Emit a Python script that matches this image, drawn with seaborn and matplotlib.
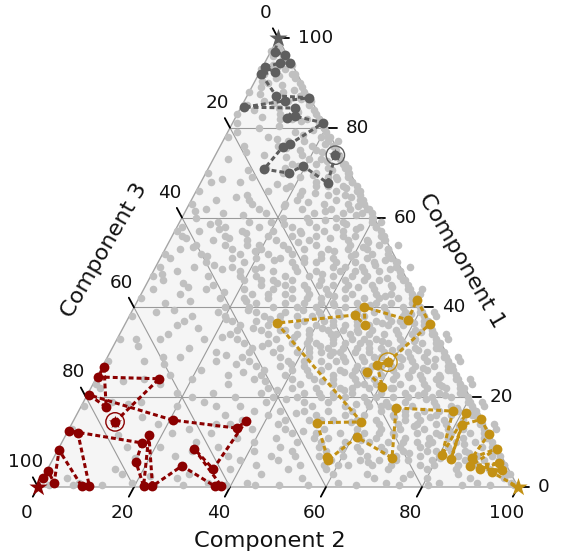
import matplotlib
matplotlib.use("Agg")
import matplotlib.pyplot as plt
from matplotlib.patches import Polygon
import numpy as np
import seaborn as sns

sns.set_theme(style="white")
plt.rcParams["font.family"] = ["DejaVu Sans"]

# ---------------------------------------------------------------------------
# Data: (Component 1, Component 2) in percent; Component 3 is the remainder.
# ---------------------------------------------------------------------------
cloud = [
    (98, 1), (97, 2), (96, 3), (99, 0.5), (96, 1), (95, 4), (97, 0),
    (94, 2), (93, 5), (92, 1), (91, 8), (90, 3), (92, 7), (93, 0), (91, 4), (94, 6), (90, 9.5),
    (89, 2), (88, 7), (87, 11), (86, 4), (85, 14), (88, 0), (86, 9), (87, 12.5), (89, 10.5), (85, 1), (86, 13.5),
    (84, 3), (83, 9), (82, 15), (81, 18), (80, 6), (83, 16.5), (82, 12), (84, 15.5), (81, 1), (80, 19.5),
    (82, 17.5), (83, 0),
    (79, 14), (78, 20), (77, 22), (76, 5), (75, 17), (79, 20.5), (78, 9), (77, 24), (76, 19), (75, 24.5),
    (76, 12), (79, 2), (77, 17), (78, 21.5),
    (74, 25), (73, 20), (72, 28), (71, 12), (70, 23), (74, 18), (73, 26.5), (72, 17), (71, 29), (70, 29.5),
    (72, 22), (73, 3), (71, 25), (74, 10), (70, 16), (72, 27.5), (71, 20),
    (69, 30), (68, 24), (67, 33), (66, 15), (65, 28), (69, 20), (68, 31.5), (67, 27), (66, 34), (65, 34.5),
    (68, 8), (67, 19), (66, 22), (65, 11), (69, 26), (68, 2), (67, 30), (66, 29), (65, 22), (69, 10),
    (64, 35), (63, 28), (62, 38), (61, 17), (60, 32), (64, 22), (63, 36.5), (62, 30), (61, 39), (60, 39.5),
    (64, 5), (63, 13), (62, 24), (61, 8), (60, 21), (64, 30), (63, 0.5), (62, 15), (61, 33), (60, 26),
    (64, 12), (62, 34), (61, 27), (60, 3), (63, 20), (62, 4),
    (59, 40), (58, 33), (57, 43), (56, 20), (55, 37), (59, 27), (58, 41.5), (57, 35), (56, 44), (55, 44.5),
    (59, 8), (58, 17), (57, 26), (56, 11), (55, 29), (59, 34), (58, 1), (57, 14), (56, 38), (55, 22),
    (59, 19), (58, 24), (57, 5), (56, 30), (55, 9), (59, 42), (58, 38), (57, 31), (56, 2), (55, 16),
    (58, 10), (56, 25),
    (54, 44), (53, 38), (52, 47), (51, 25), (50, 41), (54, 31), (53, 46.5), (52, 40), (51, 48), (50, 49.5),
    (54, 12), (53, 20), (52, 33), (51, 15), (50, 28), (54, 38), (53, 3), (52, 22), (51, 36), (50, 18),
    (54, 24), (53, 29), (52, 8), (51, 43), (50, 33), (54, 6), (53, 14), (52, 27), (51, 2), (50, 10),
    (54, 48), (53, 42), (52, 16), (51, 30), (50, 45), (53, 34), (51, 20), (50, 37), (54, 19),
    (49, 50), (48, 44), (47, 52), (46, 30), (45, 47), (49, 37), (48, 51.5), (47, 45), (46, 53), (45, 54.5),
    (49, 16), (48, 25), (47, 38), (46, 20), (45, 33), (49, 43), (48, 5), (47, 28), (46, 41), (45, 24),
    (49, 29), (48, 34), (47, 12), (46, 48), (45, 39), (49, 8), (48, 18), (47, 33), (46, 3), (45, 14),
    (49, 53), (48, 47), (47, 22), (46, 36), (45, 51), (48, 39), (46, 26), (45, 42), (49, 22), (47, 42),
    (46, 45), (48, 30), (45, 29), (49, 1),
    (44, 55), (43, 49), (42, 57), (41, 35), (40, 52), (44, 42), (43, 56.5), (42, 50), (41, 58), (40, 59.5),
    (44, 21), (43, 30), (42, 43), (41, 25), (40, 38), (44, 48), (43, 8), (42, 32), (41, 46), (40, 29),
    (44, 34), (43, 39), (42, 17), (41, 53), (40, 44), (44, 13), (43, 23), (42, 38), (41, 6), (40, 19),
    (44, 58), (43, 52), (42, 27), (41, 41), (40, 56), (43, 44), (41, 31), (40, 47), (44, 27), (42, 47),
    (41, 50), (43, 35), (40, 34), (44, 2), (42, 54), (40, 24), (43, 58), (41, 57.5), (44, 38), (42, 22),
    (39, 60), (38, 54), (37, 62), (36, 40), (35, 57), (39, 47), (38, 61.5), (37, 55), (36, 63), (35, 64.5),
    (39, 26), (38, 35), (37, 48), (36, 30), (35, 43), (39, 53), (38, 13), (37, 37), (36, 51), (35, 34),
    (39, 39), (38, 44), (37, 22), (36, 58), (35, 49), (39, 18), (38, 28), (37, 43), (36, 11), (35, 24),
    (39, 63), (38, 57), (37, 32), (36, 46), (35, 61), (38, 49), (36, 36), (35, 52), (39, 32), (37, 52),
    (36, 55), (38, 40), (35, 39), (39, 5), (37, 59), (35, 29), (38, 64), (36, 62.5), (39, 43), (37, 27),
    (38, 20), (36, 24), (35, 46), (39, 57), (37, 41),
    (34, 65), (33, 59), (32, 67), (31, 45), (30, 62), (34, 52), (33, 66.5), (32, 60), (31, 68), (30, 69.5),
    (34, 31), (33, 40), (32, 53), (31, 35), (30, 48), (34, 58), (33, 18), (32, 42), (31, 56), (30, 39),
    (34, 44), (33, 49), (32, 27), (31, 63), (30, 54), (34, 23), (33, 33), (32, 48), (31, 16), (30, 29),
    (34, 68), (33, 62), (32, 37), (31, 51), (30, 66), (33, 54), (31, 41), (30, 57), (34, 37), (32, 57),
    (31, 60), (33, 45), (30, 44), (34, 10), (32, 64), (30, 34), (33, 69), (31, 67.5), (34, 48), (32, 32),
    (33, 25), (31, 29), (30, 51), (34, 61), (32, 51), (30, 22), (33, 4), (31, 48), (34, 55),
    (29, 70), (28, 64), (27, 72), (26, 50), (25, 67), (29, 57), (28, 71.5), (27, 65), (26, 73), (25, 74.5),
    (29, 36), (28, 45), (27, 58), (26, 40), (25, 53), (29, 63), (28, 23), (27, 47), (26, 61), (25, 44),
    (29, 49), (28, 54), (27, 32), (26, 68), (25, 59), (29, 28), (28, 38), (27, 53), (26, 21), (25, 34),
    (29, 73), (28, 67), (27, 42), (26, 56), (25, 71), (28, 59), (26, 46), (25, 62), (29, 42), (27, 62),
    (26, 65), (28, 50), (25, 49), (29, 15), (27, 69), (25, 39), (28, 74), (26, 72.5), (29, 53), (27, 37),
    (28, 30), (26, 34), (25, 56), (29, 66), (27, 56), (25, 27), (28, 8), (26, 53), (29, 61),
    (24, 75), (23, 69), (22, 77), (21, 55), (20, 72), (24, 62), (23, 76.5), (22, 70), (21, 78), (20, 79.5),
    (24, 41), (23, 50), (22, 63), (21, 45), (20, 58), (24, 68), (23, 28), (22, 52), (21, 66), (20, 49),
    (24, 54), (23, 59), (22, 37), (21, 73), (20, 64), (24, 33), (23, 43), (22, 58), (21, 26), (20, 39),
    (24, 78), (23, 72), (22, 47), (21, 61), (20, 76), (23, 64), (21, 51), (20, 67), (24, 20), (22, 67),
    (21, 70), (23, 55), (20, 54), (24, 10), (22, 74), (20, 44), (23, 79), (21, 77.5), (24, 58), (22, 42),
    (23, 14), (21, 36), (20, 31), (24, 71), (22, 2), (20, 22),
    (19, 80), (18, 74), (17, 82), (16, 60), (15, 77), (19, 67), (18, 81.5), (17, 75), (16, 83), (15, 84.5),
    (19, 46), (18, 55), (17, 68), (16, 50), (15, 63), (19, 73), (18, 33), (17, 57), (16, 71), (15, 54),
    (19, 59), (18, 64), (17, 42), (16, 78), (15, 69), (19, 38), (18, 48), (17, 63), (16, 31), (15, 44),
    (19, 83), (18, 77), (17, 52), (16, 66), (15, 81), (18, 69), (16, 56), (15, 72), (19, 25), (17, 72),
    (16, 75), (18, 60), (15, 59), (19, 12), (17, 79), (15, 49), (18, 84), (16, 82.5), (19, 63), (17, 47),
    (18, 20), (16, 40), (15, 35), (19, 6),
    (14, 85), (13, 79), (12, 87), (11, 65), (10, 82), (14, 72), (13, 86.5), (12, 80), (11, 88), (10, 89.5),
    (14, 51), (13, 60), (12, 73), (11, 55), (10, 68), (14, 78), (13, 38), (12, 62), (11, 76), (10, 59),
    (14, 64), (13, 69), (12, 47), (11, 83), (10, 74), (14, 43), (13, 53), (12, 68), (11, 36), (10, 49),
    (14, 88), (13, 82), (12, 57), (11, 71), (10, 86), (13, 74), (11, 61), (10, 77), (14, 30), (12, 77),
    (11, 80), (13, 65), (10, 64), (14, 18), (12, 84), (10, 54), (13, 89), (11, 87.5), (14, 68), (12, 52),
    (13, 25), (11, 44), (10, 40), (12, 30), (14, 9),
    (9, 88), (8, 82), (7, 91), (6, 68), (5, 85), (9, 75), (8, 90.5), (7, 84), (6, 93), (5, 94.5),
    (9, 54), (8, 63), (7, 76), (6, 58), (5, 71), (9, 81), (8, 41), (7, 65), (6, 79), (5, 62),
    (9, 67), (8, 72), (7, 50), (6, 86), (5, 77), (9, 46), (8, 56), (7, 71), (6, 39), (5, 52),
    (9, 90), (8, 85), (7, 60), (6, 74), (5, 89), (8, 77), (6, 64), (5, 80), (9, 33), (7, 80),
    (6, 83), (8, 68), (5, 67), (9, 21), (7, 88), (5, 57), (8, 91.5), (6, 90), (9, 71), (7, 55),
    (8, 28), (6, 47), (5, 43), (7, 36), (9, 14), (8, 49),
    (4, 92), (3, 86), (2, 96), (1, 72), (0.5, 88), (4, 79), (3, 96.5), (2, 89), (1, 98), (0.5, 99),
    (4, 58), (3, 67), (2, 80), (1, 62), (0.5, 75), (4, 85), (3, 45), (2, 69), (1, 83), (0.5, 66),
    (4, 71), (3, 76), (2, 54), (1, 91), (0.5, 81), (4, 50), (3, 60), (2, 75), (1, 43), (0.5, 56),
    (0.5, 94), (0.5, 50), (0.5, 45), (0.5, 39), (1, 35), (0.5, 30), (2, 28), (0.5, 24), (1, 19),
    (0.5, 13), (3, 16), (0.5, 7), (2, 5), (0.5, 2), (4, 38), (3, 30), (1, 8),
    # along the Component 3 side
    (85, 0.5), (78, 0.5), (70, 0.5), (66, 0.5), (57, 0.5), (52, 0.5), (47, 0.5), (42, 0.5),
    (38, 0.5), (33, 0.5), (28, 0.5), (23, 0.5), (18, 0.5), (13, 0.5), (8, 0.5),
    # along the Component 1 / Component 2 side
    (88, 11.5), (82, 17.5), (76, 23.5), (71, 28.5), (66, 33.5), (62, 37.5), (58, 41.5), (53, 46.5),
    (48, 51.5), (44, 55.5), (39, 60.5), (34, 65.5), (29, 70.5), (24, 75.5), (19, 80.5), (14, 85.5),
    (9, 90.5), (5, 94.5), (68, 31.5), (73, 26.5), (80, 19.5), (56, 43.5), (46, 53.5), (36, 63.5),
    (26, 73.5), (16, 83.5),
]

cloud_more = [
    (91.5, 4.5), (89.5, 6), (87.5, 2.5), (86.5, 11.5), (84.5, 8), (83.5, 12.5), (82.5, 5.5),
    (81.5, 14), (80.5, 10), (88.5, 9), (85.5, 6.5), (93.5, 3), (90.5, 1.5), (84, 12), (82, 9.5),
    (78.5, 16), (77.5, 11), (76.5, 21.5), (75.5, 14), (74.5, 22), (73.5, 15), (72.5, 24), (71.5, 18.5),
    (70.5, 26), (69.5, 22.5), (68.5, 28), (67.5, 16), (66.5, 31), (65.5, 25), (64.5, 33), (63.5, 24.5),
    (62.5, 35.5), (61.5, 29), (60.5, 36), (79.5, 17.5), (77, 13.5), (75, 20.5), (73, 22.5), (71, 16),
    (69, 27.5), (67, 24.5), (65, 31.5), (63, 33), (61, 37), (62.5, 20), (66.5, 18.5), (70.5, 8.5),
    (74.5, 6),
    (59.5, 30), (58.5, 22), (57.5, 37.5), (56.5, 15), (55.5, 33), (54.5, 27), (53.5, 41), (52.5, 19),
    (51.5, 39.5), (50.5, 24), (49.5, 45.5), (48.5, 21), (47.5, 35.5), (46.5, 49.5), (45.5, 27),
    (44.5, 44.5), (43.5, 17), (42.5, 40.5), (41.5, 22.5), (40.5, 49), (59, 14.5), (57, 20.5), (55, 41),
    (53, 25.5), (51, 33.5), (49, 39.5), (47, 18.5), (45, 36), (43, 26.5), (41, 38.5), (58, 29),
    (56, 35.5), (54, 16.5), (52, 43.5), (50, 30.5), (48, 42), (46, 23.5), (44, 31), (42, 35),
    (40.5, 41.5), (57.5, 9), (53.5, 5.5), (49.5, 12), (45.5, 7.5), (41.5, 11), (55.5, 3), (47.5, 2),
    (60.5, 12.5), (42.5, 51), (44.5, 51.5), (48.5, 49), (50.5, 47), (52.5, 35.5), (54.5, 41.5),
    (56.5, 26.5), (58.5, 35),
    (39.5, 35.5), (38.5, 46.5), (37.5, 29.5), (36.5, 53.5), (35.5, 41.5), (34.5, 49.5), (33.5, 36.5),
    (32.5, 55.5), (31.5, 43), (30.5, 58.5), (29.5, 46), (28.5, 61.5), (27.5, 39), (26.5, 58), (25.5, 51),
    (24.5, 65), (23.5, 47.5), (22.5, 60.5), (21.5, 53), (20.5, 69), (39, 50.5), (38, 31.5), (37, 57),
    (36, 43.5), (35, 33), (34, 39.5), (33, 51.5), (32, 45.5), (31, 53.5), (30, 41.5), (29, 55.5),
    (28, 48), (27, 60), (26, 43), (25, 64.5), (24, 49.5), (23, 56.5), (22, 62.5), (21, 48), (20, 60.5),
    (39.5, 24), (37.5, 20.5), (35.5, 27), (33.5, 21.5), (31.5, 31), (29.5, 24.5), (27.5, 27.5),
    (25.5, 30), (23.5, 35.5), (21.5, 39), (38.5, 58.5), (36.5, 60), (34.5, 62.5), (32.5, 62), (30.5, 64),
    (28.5, 68.5), (26.5, 67), (24.5, 71.5), (22.5, 73), (20.5, 74.5), (38, 38), (36, 48.5), (34, 45),
    (32, 40), (30, 46.5), (28, 41.5), (26, 55), (24, 45.5), (22, 54.5), (20, 51.5), (37, 12), (33, 9),
    (29, 11.5), (25, 15), (21, 18.5),
    (19.5, 42), (18.5, 57), (17.5, 65.5), (16.5, 45.5), (15.5, 66.5), (14.5, 58), (13.5, 71.5),
    (12.5, 49), (11.5, 78), (10.5, 62), (9.5, 84), (8.5, 59), (7.5, 73.5), (6.5, 80.5), (5.5, 66),
    (19, 51), (18, 62.5), (17, 36.5), (16, 68.5), (15, 51.5), (14, 76), (13, 45), (12, 65), (11, 52),
    (10, 71), (9, 62), (8, 79), (7, 45), (6, 71.5), (5, 60), (19.5, 71), (17.5, 78.5), (15.5, 74),
    (13.5, 81), (11.5, 68.5), (9.5, 76.5), (7.5, 86), (5.5, 88), (18, 28), (14, 33), (10, 28), (7, 25),
    (12, 22),
    (68.5, 4), (64.5, 9), (61.5, 2), (58.5, 6.5), (55.5, 12), (51.5, 9.5), (48.5, 14), (44.5, 9),
    (39.5, 8.5), (35.5, 15.5), (31.5, 5), (27.5, 12.5), (23.5, 6), (18.5, 9.5), (15.5, 14), (11.5, 11),
    (6.5, 17), (4, 14), (2.5, 22),
    (92, 7.5), (86, 13.8), (78, 21.8), (74, 25.8), (70, 29.8), (64, 35.8), (60, 39.8), (55, 44.8),
    (50, 49.8), (42, 57.8), (37, 62.8), (32, 67.8), (27, 72.8), (22, 77.8), (17, 82.8), (12, 87.8),
    (7, 92.8), (3, 96.8),
]
cloud_c1 = [p[0] for p in cloud + cloud_more]
cloud_c2 = [p[1] for p in cloud + cloud_more]

# Walk heading to the Component 1 corner
gray_c1 = [73.9, 67.7, 71.5, 69.9, 70.8, 75.7, 76.4, 81.1, 82.6, 82.2, 84.4, 84.6, 86.0, 86.7,
           87.1, 92.0, 92.4, 93.5, 94.4, 94.4, 96.2, 96.9, 100.0]
gray_c2 = [25.0, 26.5, 19.45, 17.3, 11.7, 13.1, 14.3, 18.9, 12.2, 10.8, 11.3, 0.6, 8.5, 13.2,
           6.05, 0.5, 3.2, 0.5, 3.2, 5.4, 3.4, 0.9, 0.0]
gray_mark = (73.9, 25.0)

# Walk heading to the Component 3 corner
red_c1 = [14.5, 24.1, 24.5, 26.7, 17.8, 20.5, 14.9, 13.1, 14.7, 4.0, 8.5, 0.2, 0.2, 4.7, 0.2,
          11.6, 0.2, 5.6, 9.8, 12.5, 12.0, 0.2, 0.2, 8.2, 0.9, 3.6, 2.0, 0.0]
red_c2 = [8.8, 13.2, 0.25, 0.4, 5.3, 0.4, 20.6, 34.9, 36.0, 34.5, 28.3, 38.1, 36.7, 27.65, 23.75,
          17.3, 21.9, 17.6, 16.8, 0.2, 2.3, 10.6, 9.0, 0.3, 2.9, 0.3, 0.04, 0.0]
red_mark = (14.5, 8.8)

# Walk heading to the Component 2 corner
gold_c1 = [25.6, 22.3, 27.2, 27.8, 36.3, 41.7, 37.2, 40.1, 36.1, 38.3, 36.5, 14.5, 14.3, 6.7, 6.0,
           11.1, 6.5, 17.6, 16.9, 7.1, 16.5, 6.2, 13.8, 15.1, 11.8, 6.5, 8.5, 4.7, 5.3, 4.0, 3.8,
           3.3, 0.0]
gold_c2 = [55.7, 60.6, 57.0, 59.0, 63.5, 58.1, 58.5, 47.9, 50.1, 46.8, 31.5, 60.1, 51.0, 56.9, 57.4,
           60.9, 70.5, 65.8, 78.0, 80.6, 81.0, 82.9, 81.4, 84.8, 88.0, 87.2, 91.3, 87.7, 93.3, 90.1,
           94.8, 92.9, 100.0]
gold_mark = (27.8, 59.0)

ticks = [0, 20, 40, 60, 80, 100]

GRAY = "#5e5e5e"
RED = "#8b0000"
GOLD = "#c39114"
CLOUD = "#c0c0c0"


def cart(c1, c2):
    c1 = np.asarray(c1, float)
    c2 = np.asarray(c2, float)
    return c2 + c1 / 2.0, c1


fig = plt.figure(figsize=(5.61, 5.53), dpi=100)
ax = fig.add_axes([0, 0, 1, 1])
ax.set_xlim(-7.917, 108.958)
ax.set_ylim(-14.70, 108.46)
ax.axis("off")

SX = 561 / (108.958 + 7.917)
SY = 553 / (108.46 + 14.70)


def shift(x, y, dx, dy):
    """Move a data point by (dx right, dy down) pixels."""
    return x + dx / SX, y - dy / SY


# triangle background
ax.add_patch(Polygon([(0, 0), (100, 0), (50, 100)], closed=True,
                     facecolor="#f5f5f5", edgecolor="none", zorder=0))

# grid lines
for v in [20, 40, 60, 80]:
    x0, y0 = cart(v, 0)
    x1, y1 = cart(v, 100 - v)
    ax.plot([x0, x1], [y0, y1], color="#9a9a9a", lw=0.8, zorder=1)
    x0, y0 = cart(0, v)
    x1, y1 = cart(100 - v, v)
    ax.plot([x0, x1], [y0, y1], color="#9a9a9a", lw=0.8, zorder=1)
    x0, y0 = cart(100 - v, 0)
    x1, y1 = cart(0, 100 - v)
    ax.plot([x0, x1], [y0, y1], color="#9a9a9a", lw=0.8, zorder=1)

# outer edges
ax.plot([0, 100, 50, 0], [0, 0, 100, 0], color="#a5a5a5", lw=1.0, zorder=1)

# background cloud
cx, cy = cart(cloud_c1, cloud_c2)
sns.scatterplot(x=cx, y=cy, ax=ax, color=CLOUD, s=30, linewidth=0, zorder=2, legend=False)

# walks
for c1, c2, col, mark in [(gray_c1, gray_c2, GRAY, gray_mark),
                          (red_c1, red_c2, RED, red_mark),
                          (gold_c1, gold_c2, GOLD, gold_mark)]:
    x, y = cart(c1, c2)
    ax.plot(x, y, color=col, lw=2.2, dashes=(1.6, 1.0), zorder=3)
    sns.scatterplot(x=x[:-1], y=y[:-1], ax=ax, color=col, s=50, linewidth=0, zorder=4,
                    legend=False)
    sns.scatterplot(x=x[-1:], y=y[-1:], ax=ax, color=col, marker="*", s=190, linewidth=0,
                    zorder=5, legend=False)
    mx, my = cart(*mark)
    ax.scatter([mx], [my], s=175, facecolor="none", edgecolor=col, linewidth=1.0, zorder=5)
    ax.scatter([mx], [my], s=95, marker="*", color=col, linewidth=0, zorder=6)

TICK_LEN = 11
FS = 13.2
TXT = "#111111"

for v in ticks:
    # Component 2 (bottom)
    x, y = cart(0, v)
    ex, ey = shift(x, y, -0.471 * TICK_LEN, 0.882 * TICK_LEN)
    ax.plot([x, ex], [y, ey], color="black", lw=1.3, zorder=1)
    lx, ly = shift(ex, ey, -6, 16)
    ax.text(lx, ly, str(v), ha="center", va="center", fontsize=FS, color=TXT)

    # Component 1 (right)
    x, y = cart(v, 100 - v)
    ex, ey = shift(x, y, TICK_LEN, 0)
    ax.plot([x, ex], [y, ey], color="black", lw=1.3, zorder=1)
    lx, ly = shift(ex, ey, 9, 0)
    ax.text(lx, ly, str(v), ha="left", va="center", fontsize=FS, color=TXT)

    # Component 3 (left)
    x, y = cart(100 - v, 0)
    ex, ey = shift(x, y, -0.471 * TICK_LEN, -0.882 * TICK_LEN)
    ax.plot([x, ex], [y, ey], color="black", lw=1.3, zorder=1)
    lx, ly = shift(ex, ey, -7, -15)
    ax.text(lx, ly, str(v), ha="center", va="center", fontsize=FS, color=TXT)

TFS = 16.2
x, y = shift(*cart(0, 50), -8, 54)
ax.text(x, y, "Component 2", ha="center", va="center", fontsize=TFS, color=TXT)
x, y = shift(*cart(50, 50), 64, -2)
ax.text(x, y, "Component 1", ha="center", va="center", fontsize=TFS, color=TXT,
        rotation=-60, rotation_mode="anchor")
x, y = shift(*cart(50, 0), -54, -12)
ax.text(x, y, "Component 3", ha="center", va="center", fontsize=TFS, color=TXT,
        rotation=60, rotation_mode="anchor")

fig.savefig("out.png", dpi=100)
